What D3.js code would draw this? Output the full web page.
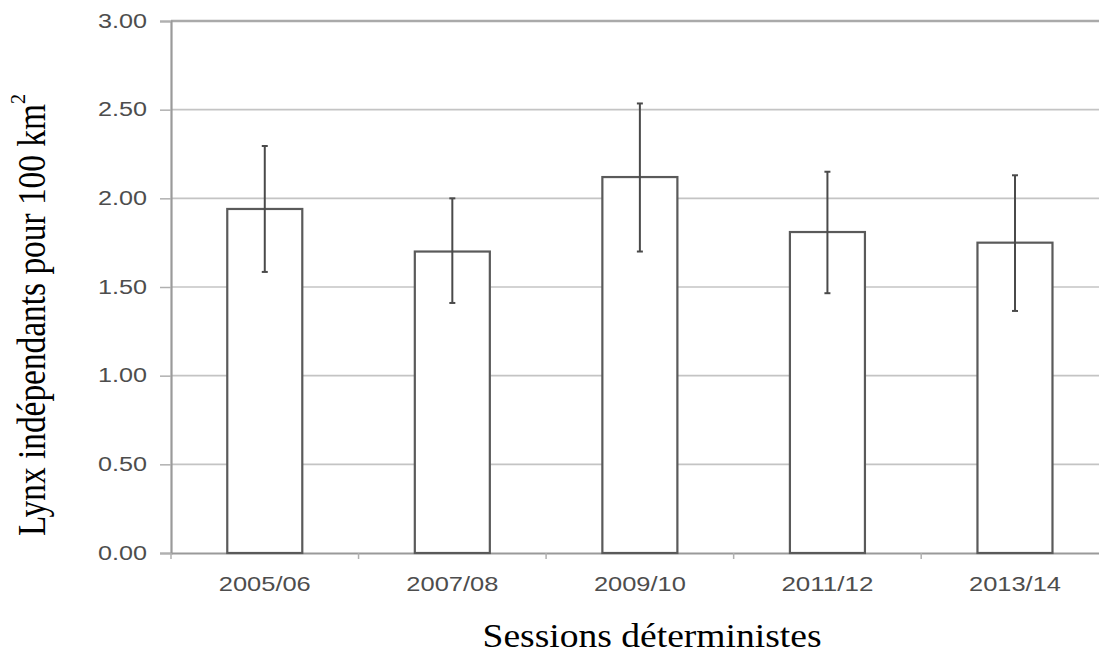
<!DOCTYPE html>
<html>
<head>
<meta charset="utf-8">
<script src="https://cdn.jsdelivr.net/npm/d3@7/dist/d3.min.js"></script>
<style>
html,body{margin:0;padding:0;background:#fff;}
svg{display:block;}
</style>
</head>
<body>
<svg id="chart" width="1099" height="661"></svg>
<script>
const categories = ["2005/06","2007/08","2009/10","2011/12","2013/14"];
const values = [1.94, 1.70, 2.12, 1.81, 1.75];
const errLow = [1.585, 1.41, 1.70, 1.465, 1.365];
const errHigh = [2.295, 2.00, 2.535, 2.15, 2.13];
const yTicks = [0, 0.5, 1, 1.5, 2, 2.5, 3];
const yTitle = "Lynx indépendants pour 100 km";
const xTitle = "Sessions déterministes";

(function () {
const svg = d3.select("#chart");
const pl = 171, pr = 1108.75, pt = 21, pb = 553;

const x = d3.scaleBand().domain(categories).range([pl, pr]).paddingInner(0.6).paddingOuter(0.3);
const y = d3.scaleLinear().domain([0, 3]).range([pb, pt]);

// gridlines
svg.append("g").selectAll("line").data(yTicks.filter(d => d > 0)).join("line")
  .attr("x1", pl).attr("x2", pr)
  .attr("y1", d => y(d)).attr("y2", d => y(d))
  .attr("stroke", d => d === 3 ? "#aaa" : "#c4c4c4")
  .attr("stroke-width", d => d === 3 ? 2.5 : 1.6);

// y axis
const yAxis = d3.axisLeft(y).tickValues(yTicks).tickSize(11).tickPadding(13).tickFormat(d3.format(".2f"));
const gy = svg.append("g").attr("transform", `translate(${pl},0)`).call(yAxis);
gy.select(".domain").attr("stroke", "#9a9a9a").attr("stroke-width", 2.2);
gy.selectAll(".tick line").attr("stroke", "#b0b0b0").attr("stroke-width", 1.5);
gy.selectAll(".tick text")
  .attr("font-family", "Liberation Sans, Arial, sans-serif")
  .attr("font-size", 19.5).attr("fill", "#4d4d4d")
  .attr("textLength", 49).attr("lengthAdjust", "spacingAndGlyphs");

// x axis
const xAxis = d3.axisBottom(x).tickSize(0).tickPadding(23);
const gx = svg.append("g").attr("transform", `translate(0,${pb})`).call(xAxis);
gx.select(".domain").attr("stroke", "#9a9a9a").attr("stroke-width", 2.2);
gx.selectAll(".tick text")
  .attr("font-family", "Liberation Sans, Arial, sans-serif")
  .attr("font-size", 21).attr("fill", "#4d4d4d")
  .attr("textLength", 92).attr("lengthAdjust", "spacingAndGlyphs");
// category boundary ticks
svg.append("g").selectAll("line").data(categories).join("line")
  .attr("x1", d => x(d) - x.step() * x.paddingInner() / 2).attr("x2", d => x(d) - x.step() * x.paddingInner() / 2)
  .attr("y1", pb).attr("y2", pb + 6)
  .attr("stroke", "#b0b0b0").attr("stroke-width", 1.5);

// bars
svg.append("g").selectAll("rect").data(categories).join("rect")
  .attr("x", d => x(d)).attr("width", x.bandwidth())
  .attr("y", (d, i) => y(values[i])).attr("height", (d, i) => y(0) - y(values[i]))
  .attr("fill", "#fff").attr("stroke", "#5a5a5a").attr("stroke-width", 2.2);

// error bars
const eg = svg.append("g").attr("stroke", "#4a4a4a").attr("stroke-width", 2);
const cx = d => x(d) + x.bandwidth() / 2;
eg.selectAll("line.v").data(categories).join("line").attr("class", "v")
  .attr("x1", cx).attr("x2", cx)
  .attr("y1", (d, i) => y(errLow[i])).attr("y2", (d, i) => y(errHigh[i]));
eg.selectAll("line.h").data(categories).join("line").attr("class", "h")
  .attr("x1", d => cx(d) - 3).attr("x2", d => cx(d) + 3)
  .attr("y1", (d, i) => y(errHigh[i])).attr("y2", (d, i) => y(errHigh[i]));
eg.selectAll("line.l").data(categories).join("line").attr("class", "l")
  .attr("x1", d => cx(d) - 3).attr("x2", d => cx(d) + 3)
  .attr("y1", (d, i) => y(errLow[i])).attr("y2", (d, i) => y(errLow[i]));

// y title
const yt = svg.append("text")
  .attr("transform", `translate(45,536) rotate(-90)`)
  .attr("text-anchor", "start")
  .attr("font-family", "Liberation Serif, Times New Roman, serif")
  .attr("font-size", 40).attr("fill", "#000");
yt.append("tspan").attr("textLength", 432).attr("lengthAdjust", "spacingAndGlyphs").text(yTitle);
yt.append("tspan").attr("font-size", 20).attr("dy", -20).text("2");

// x title
svg.append("text")
  .attr("x", 652).attr("y", 647)
  .attr("text-anchor", "middle")
  .attr("font-family", "Liberation Serif, Times New Roman, serif")
  .attr("font-size", 33).attr("fill", "#000")
  .attr("textLength", 339).attr("lengthAdjust", "spacingAndGlyphs")
  .text(xTitle);
})();
</script>
</body>
</html>
